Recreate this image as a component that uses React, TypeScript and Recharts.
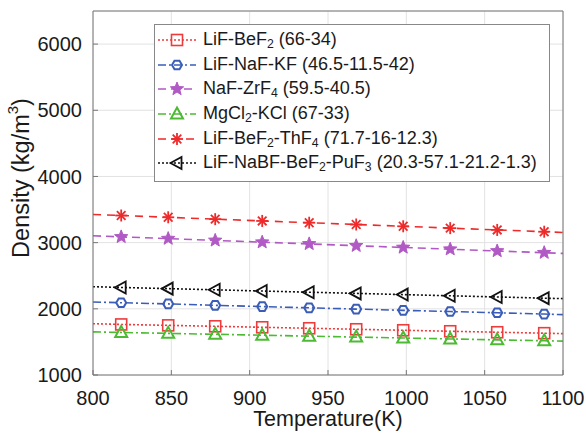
import { CartesianGrid, Line, LineChart, XAxis, YAxis } from 'recharts';

// temperatures (K): line ends at 800/1100, markers in between
const temps = [800, 818, 848, 878, 908, 938, 968, 998, 1028, 1058, 1088, 1100];

const lifBef2 = [1775, 1764, 1750, 1736, 1721, 1706, 1691, 1676, 1661, 1646, 1632, 1625];
const lifNafKf = [2103, 2092, 2074, 2053, 2034, 2015, 1996, 1977, 1959, 1940, 1921, 1912];
const nafZrf4 = [3103, 3087, 3061, 3034, 3007, 2981, 2953, 2927, 2901, 2874, 2848, 2837];
const mgcl2Kcl = [1651, 1643, 1629, 1615, 1601, 1587, 1573, 1559, 1545, 1531, 1517, 1512];
const lifBef2Thf4 = [3426, 3410, 3383, 3355, 3328, 3301, 3274, 3247, 3219, 3192, 3165, 3154];
const lifNabfPuf3 = [2334, 2323, 2305, 2287, 2269, 2251, 2233, 2215, 2197, 2179, 2161, 2154];

const xTicks = [800, 850, 900, 950, 1000, 1050, 1100];
const yTicks = [1000, 2000, 3000, 4000, 5000, 6000];

const series = [
  { key: 's1', label: 'LiF-BeF_2 (66-34)', values: lifBef2, color: '#ee3b3b', dash: '2 2', marker: 'square' },
  { key: 's2', label: 'LiF-NaF-KF (46.5-11.5-42)', values: lifNafKf, color: '#3a5db8', dash: '8 3 2 3', marker: 'hexagon' },
  { key: 's3', label: 'NaF-ZrF_4 (59.5-40.5)', values: nafZrf4, color: '#b159c4', dash: '8 5', marker: 'star' },
  { key: 's4', label: 'MgCl_2-KCl (67-33)', values: mgcl2Kcl, color: '#4cba33', dash: '8 3 2 3', marker: 'triangle' },
  { key: 's5', label: 'LiF-BeF_2-ThF_4 (71.7-16-12.3)', values: lifBef2Thf4, color: '#ee2a2a', dash: '8 6', marker: 'asterisk' },
  { key: 's6', label: 'LiF-NaBF-BeF_2-PuF_3 (20.3-57.1-21.2-1.3)', values: lifNabfPuf3, color: '#111111', dash: '2 2', marker: 'left' },
];

const rows = temps.map((T, i) => {
  const row: any = { T };
  series.forEach((s) => (row[s.key] = s.values[i]));
  return row;
});

const FONT = '"Liberation Sans", Arial, Helvetica, sans-serif';

function Marker({ type, cx, cy, color }: { type: string; cx: number; cy: number; color: string }) {
  if (type === 'square') {
    return <rect x={cx - 5.5} y={cy - 5.5} width={11} height={11} fill="none" stroke={color} strokeWidth={1.6} />;
  }
  if (type === 'hexagon') {
    const pts = Array.from({ length: 6 }, (_, k) => {
      const a = (Math.PI / 3) * k;
      return `${cx + 5 * Math.cos(a)},${cy + 5 * Math.sin(a)}`;
    }).join(' ');
    return <polygon points={pts} fill="none" stroke={color} strokeWidth={2} />;
  }
  if (type === 'star') {
    const pts = Array.from({ length: 10 }, (_, k) => {
      const r = k % 2 === 0 ? 7 : 3;
      const a = -Math.PI / 2 + (Math.PI / 5) * k;
      return `${cx + r * Math.cos(a)},${cy + r * Math.sin(a)}`;
    }).join(' ');
    return <polygon points={pts} fill={color} stroke={color} strokeWidth={1} />;
  }
  if (type === 'triangle') {
    return (
      <polygon
        points={`${cx},${cy - 6.5} ${cx + 6},${cy + 4.5} ${cx - 6},${cy + 4.5}`}
        fill="none"
        stroke={color}
        strokeWidth={2}
      />
    );
  }
  if (type === 'asterisk') {
    const r = 6;
    const d = r * 0.72;
    return (
      <g stroke={color} strokeWidth={1.8}>
        <line x1={cx - r} y1={cy} x2={cx + r} y2={cy} />
        <line x1={cx} y1={cy - r} x2={cx} y2={cy + r} />
        <line x1={cx - d} y1={cy - d} x2={cx + d} y2={cy + d} />
        <line x1={cx - d} y1={cy + d} x2={cx + d} y2={cy - d} />
      </g>
    );
  }
  // left-pointing triangle
  return (
    <polygon
      points={`${cx - 6.5},${cy} ${cx + 4.5},${cy - 6} ${cx + 4.5},${cy + 6}`}
      fill="none"
      stroke={color}
      strokeWidth={1.8}
    />
  );
}

function RichLabel({ text }: { text: string }) {
  const parts = text.split(/_(\d)/);
  return (
    <>
      {parts.map((p, i) =>
        i % 2 === 1 ? (
          <sub key={i} style={{ fontSize: '0.68em', verticalAlign: '-0.25em' }}>
            {p}
          </sub>
        ) : (
          <span key={i}>{p}</span>
        )
      )}
    </>
  );
}

function YTitle() {
  const x = 21;
  const y = 178;
  return (
    <text
      x={x}
      y={y}
      transform={`rotate(-90 ${x} ${y})`}
      textAnchor="middle"
      dominantBaseline="central"
      fontSize={23.5}
      fill="#1a1a1a"
      fontFamily={FONT}
    >
      Density (kg/m
      <tspan baselineShift="super" fontSize={15}>
        3
      </tspan>
      )
    </text>
  );
}

function XTitle() {
  return (
    <text x={328} y={426} textAnchor="middle" fontSize={21.5} fill="#1a1a1a" fontFamily={FONT}>
      Temperature(K)
    </text>
  );
}

export default function App() {
  return (
    <div style={{ position: 'absolute', left: 0, top: 0, width: 586, height: 433, background: '#fff', fontFamily: FONT }}>
      <LineChart width={586} height={433} data={rows} margin={{ top: 10, right: 22, left: 0, bottom: 0 }}>
        <CartesianGrid stroke="#e2e2e2" strokeWidth={1} />
        <XAxis
          dataKey="T"
          type="number"
          domain={[800, 1100]}
          ticks={xTicks}
          height={58}
          stroke="#777"
          tickSize={-5}
          tickMargin={21}
          tick={{ fontSize: 20, fill: '#1a1a1a', fontFamily: FONT }}
          label={{ content: XTitle }}
        />
        <XAxis
          xAxisId="top"
          orientation="top"
          dataKey="T"
          type="number"
          domain={[800, 1100]}
          ticks={xTicks}
          height={1}
          stroke="#777"
          tickSize={-5}
          tick={false}
        />
        <YAxis
          type="number"
          domain={[1000, 6500]}
          ticks={yTicks}
          width={93}
          stroke="#777"
          tickSize={-5}
          tickMargin={16}
          tick={{ fontSize: 20, fill: '#1a1a1a', fontFamily: FONT }}
          label={{ content: YTitle }}
        />
        <YAxis
          yAxisId="right"
          orientation="right"
          type="number"
          domain={[1000, 6500]}
          ticks={yTicks}
          width={1}
          stroke="#777"
          tickSize={-5}
          tick={false}
        />
        {series.map((s) => (
          <Line
            key={s.key}
            dataKey={s.key}
            stroke={s.color}
            strokeWidth={1.6}
            strokeDasharray={s.dash}
            isAnimationActive={false}
            activeDot={false}
            dot={(p: any) => {
              if (p.index === 0 || p.index === temps.length - 1) return <g key={`${s.key}-${p.index}`} />;
              return (
                <g key={`${s.key}-${p.index}`}>
                  <Marker type={s.marker} cx={p.cx} cy={p.cy} color={s.color} />
                </g>
              );
            }}
          />
        ))}
      </LineChart>
      <div
        style={{
          position: 'absolute',
          left: 154,
          top: 24,
          width: 394,
          height: 153,
          border: '1px solid #888',
          background: '#fff',
          paddingTop: 3,
          boxSizing: 'content-box',
        }}
      >
        {series.map((s) => (
          <div key={s.key} style={{ display: 'flex', alignItems: 'center', height: 24.6, fontSize: 18, color: '#1a1a1a', whiteSpace: 'nowrap' }}>
            <svg width={46} height={20} style={{ flex: 'none', marginLeft: 2 }}>
              <line x1={1} y1={10} x2={39} y2={10} stroke={s.color} strokeWidth={1.4} strokeDasharray={s.dash} />
              <Marker type={s.marker} cx={20} cy={10} color={s.color} />
            </svg>
            <span>
              <RichLabel text={s.label} />
            </span>
          </div>
        ))}
      </div>
    </div>
  );
}
